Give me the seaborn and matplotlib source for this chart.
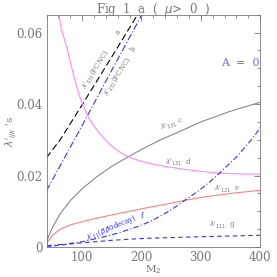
import matplotlib
matplotlib.use("Agg")
import matplotlib.pyplot as plt
from matplotlib.ticker import MultipleLocator
import seaborn as sns
import pandas as pd

# values (x = M2, y = lambda')
x_a = [40, 63, 100, 150, 192, 200]
y_a = [0.0250, 0.0300, 0.0398, 0.0532, 0.0646, 0.0668]
x_b = [40, 100, 150, 200, 210]
y_b = [0.0158, 0.0340, 0.0495, 0.0648, 0.0678]
x_c = [40, 42, 50, 63, 80, 100, 125, 150, 175, 200, 232, 260, 300, 350, 400]
y_c = [0.0, 0.0025, 0.0055, 0.0093, 0.0130, 0.0163, 0.0197, 0.0226, 0.0250,
       0.0273, 0.0300, 0.0320, 0.0350, 0.0380, 0.0405]
x_d = [58, 65, 75, 86, 95, 102, 110, 120, 136, 150, 165, 180, 200, 225, 250,
       275, 300, 330, 360, 400]
y_d = [0.068, 0.0610, 0.0553, 0.0478, 0.0425, 0.0395, 0.0365, 0.0338, 0.0305,
       0.0282, 0.0264, 0.0251, 0.0240, 0.0230, 0.0223, 0.0217, 0.0212, 0.0207,
       0.0205, 0.0204]
x_e = [40, 42, 50, 63, 80, 100, 125, 150, 200, 250, 277, 300, 350, 400]
y_e = [0.0, 0.0015, 0.0033, 0.0050, 0.0062, 0.0071, 0.0081, 0.0090, 0.0107,
       0.0123, 0.0132, 0.0139, 0.0150, 0.0159]
x_f = [40, 70, 100, 130, 160, 195, 215, 230, 250, 274, 290, 300, 315, 331, 345,
       360, 375, 390, 400]
y_f = [0.0004, 0.0008, 0.0015, 0.0026, 0.0039, 0.0058, 0.0072, 0.0085, 0.0104,
       0.0132, 0.0150, 0.0162, 0.0182, 0.0206, 0.0228, 0.0252, 0.0280, 0.0310,
       0.0334]
x_g = [40, 60, 100, 150, 200, 300, 400]
y_g = [0.0, 0.0005, 0.0012, 0.0019, 0.0024, 0.0029, 0.0033]

blue = "#3333ff"
series = [
    ("a", x_a, y_a, "black", (0, (6, 3))),
    ("b", x_b, y_b, blue, (0, (6, 2, 1, 2))),
    ("c", x_c, y_c, "#888888", "-"),
    ("d", x_d, y_d, "#ff88ff", "-"),
    ("e", x_e, y_e, "#ff8080", "-"),
    ("f", x_f, y_f, blue, (0, (5, 2, 1, 2))),
    ("g", x_g, y_g, blue, (0, (4, 3))),
]

sns.set_style("white")
plt.rcParams["font.family"] = ["DejaVu Serif"]
grey = "#777777"

fig = plt.figure(figsize=(2.77, 2.77), dpi=100)
ax = fig.add_axes([0.168, 0.108, 0.771, 0.839])

for name, xs, ys, col, ls in series:
    df = pd.DataFrame({"M2": xs, "lam": ys})
    sns.lineplot(data=df, x="M2", y="lam", color=col, linestyle=ls, linewidth=0.8, ax=ax)

ax.set_xlim(40, 400)
ax.set_ylim(0, 0.065)
ax.xaxis.set_major_locator(MultipleLocator(100))
ax.xaxis.set_minor_locator(MultipleLocator(20))
ax.yaxis.set_minor_locator(MultipleLocator(0.005))
ax.set_yticks([0, 0.02, 0.04, 0.06])
ax.set_yticklabels(["0", "0.02", "0.04", "0.06"])
ax.tick_params(which="both", direction="in", top=True, right=True, colors=grey,
               labelsize=8.5, width=0.6, pad=3)
ax.tick_params(which="major", length=4)
ax.tick_params(which="minor", length=2)
for s in ax.spines.values():
    s.set_color(grey)
    s.set_linewidth(0.6)

ax.set_xlabel("M$_2$", color=grey, fontsize=7.5, labelpad=-1)
ax.set_ylabel("$\\lambda'_{ijk}$ 's", color=grey, fontsize=7.5, labelpad=-1)
ax.set_title("Fig  1  a  (  $\\mu$>  0  )", color=grey, fontsize=8.5, pad=1)

fs = 5
ax.text(123, 0.0497, "$\\lambda'_{331}$(FCNC)", rotation=58, fontsize=fs, color=grey,
        ha="center", va="center")
ax.text(161, 0.0600, "a", rotation=58, fontsize=fs, color=grey, ha="center", va="center")
ax.text(160, 0.0478, "$\\lambda'_{231}$(FCNC)", rotation=58, fontsize=fs, color=grey,
        ha="center", va="center")
ax.text(187, 0.0553, "b", rotation=58, fontsize=fs, color=grey, ha="center", va="center")
ax.text(252, 0.0342, "$\\lambda'_{131}$ c", rotation=20, fontsize=fs, color=grey,
        ha="center", va="center")
ax.text(263, 0.0238, "$\\lambda'_{131}$  d", fontsize=fs, color=grey, ha="center", va="center")
ax.text(345, 0.0160, "$\\lambda'_{121}$  e", fontsize=fs, color=grey, ha="center", va="center")
ax.text(150, 0.0054, "$\\lambda'_{11}$($\\beta\\beta$0decay)", rotation=23, fontsize=fs,
        color=blue, ha="center", va="center")
ax.text(201, 0.0088, "f", fontsize=fs, color=blue, ha="center", va="center")
ax.text(336, 0.0059, "$\\lambda'_{111}$  g", fontsize=fs, color=grey, ha="center", va="center")
ax.text(366, 0.0516, "A  =  0", fontsize=8, color="#6666ff", ha="center", va="center")

fig.savefig("out.png", dpi=100)
